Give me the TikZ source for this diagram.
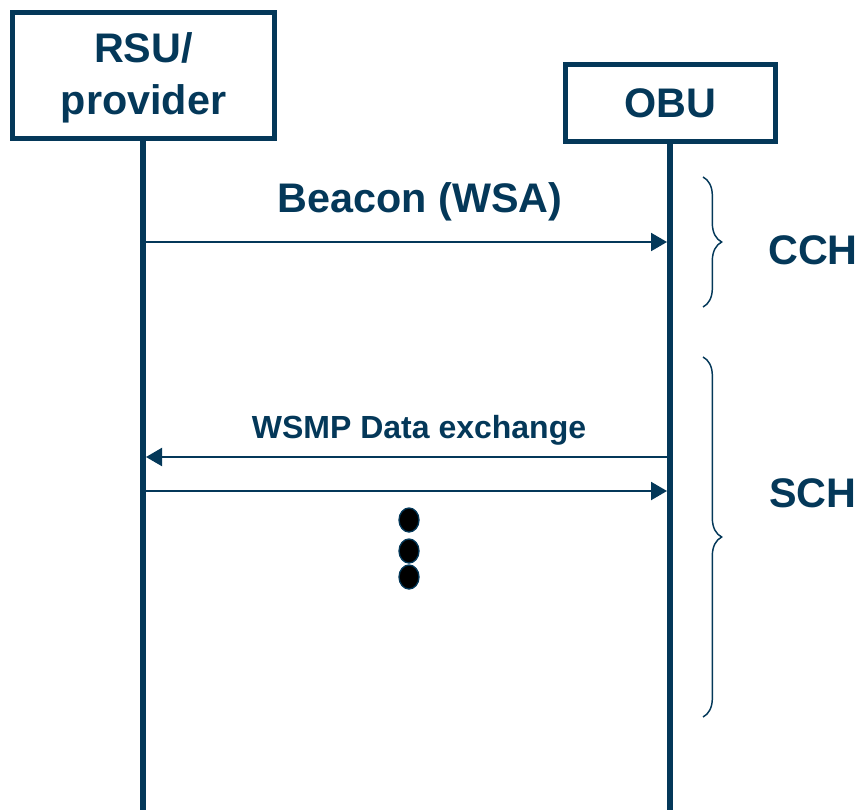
\documentclass[tikz,border=0pt]{standalone}
\usepackage{fontspec}
\setmainfont{Liberation Sans}
\usetikzlibrary{arrows.meta}
\usetikzlibrary{decorations.pathreplacing}

\definecolor{navy}{RGB}{4,56,89}

\begin{document}
\begin{tikzpicture}[x=0.75pt, y=-0.75pt,
  big/.style={text=navy, font=\fontsize{31}{39}\selectfont\bfseries, align=center},
  actor/.style={big, draw=navy, line width=3.75pt, inner sep=0pt},
  life/.style={draw=navy, line width=4.5pt},
  msg/.style={draw=navy, line width=1.6pt, -{Triangle[length=12pt, width=13.5pt]}},
  brc/.style={draw=navy, line width=1.1pt, decorate, decoration={brace, amplitude=14pt}}]

\useasboundingbox (0,0) rectangle (860,810);

\node [actor, minimum width=197pt, minimum height=94.5pt] (RSU) at (143.5,75) {};
\node [big] (RSUTXT) at (143.5,78) {RSU/\\provider};
\node [actor, minimum width=157.5pt, minimum height=57.4pt] (OBU) at (670,103.25) {OBU};
\coordinate (RSUend) at (143,810);
\coordinate (OBUend) at (670,810);
\draw [life] (RSU.south -| RSUend) to (RSUend);
\draw [life] (OBU.south -| OBUend) to (OBUend);

\node [big] (BEACON) at (420,202) {Beacon (WSA)};
\draw [msg, shorten >=2.25pt] (RSUend |- 0,242) to (OBUend |- 0,242);

\node [text=navy, font=\fontsize{24}{28}\selectfont\bfseries] (WSMP) at (419,430) {WSMP Data exchange};
\draw [msg, shorten >=2.25pt] (OBUend |- 0,457) to (RSUend |- 0,457);
\draw [msg, shorten >=2.25pt] (RSUend |- 0,491) to (OBUend |- 0,491);

\foreach \y in {520,551,577}
  \draw [fill=black, draw=navy, line width=1pt] (409,\y) ellipse (7.5pt and 9pt);

\draw [brc] (703,177) to (703,307);
\draw [brc] (703,357) to (703,717);
\node [big] (CCH) at (813,250) {CCH};
\node [big] (SCH) at (813,493) {SCH};
\end{tikzpicture}
\end{document}
